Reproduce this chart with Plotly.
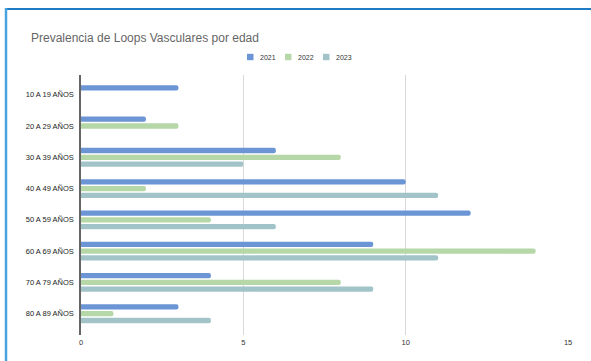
import plotly.graph_objects as go

categories = ["10 A 19 AÑOS", "20 A 29 AÑOS", "30 A 39 AÑOS", "40 A 49 AÑOS",
              "50 A 59 AÑOS", "60 A 69 AÑOS", "70 A 79 AÑOS", "80 A 89 AÑOS"]
v2021 = [3, 2, 6, 10, 12, 9, 4, 3]
v2022 = [0, 3, 8, 2, 4, 14, 8, 1]
v2023 = [0, 0, 5, 11, 6, 11, 9, 4]
series_names = ["2021", "2022", "2023"]
colors = ["#6c95d5", "#b6d7a8", "#a2c4c9"]
x_ticks = [0, 5, 10, 15]

W, H = 591, 361
L, R, T, B = 81, 22, 75, 26

fig = go.Figure()
for name, vals, col in zip(series_names, [v2021, v2022, v2023], colors):
    fig.add_trace(go.Bar(
        y=categories, x=vals, name=name, orientation="h",
        marker=dict(color=col, line=dict(width=0)), showlegend=False,
    ))

pw = W - L - R
ph = H - T - B

def px2paperx(px):
    return (px - L) / pw

def py2papery(py):
    return (H - B - py) / ph

shapes = [
    dict(type="line", xref="paper", yref="paper",
         x0=px2paperx(5), x1=px2paperx(591), y0=py2papery(9), y1=py2papery(9),
         line=dict(color="#1f7cc4", width=2)),
    dict(type="line", xref="paper", yref="paper",
         x0=px2paperx(6), x1=px2paperx(6), y0=py2papery(8), y1=py2papery(361),
         line=dict(color="#4aa3df", width=2.5)),
]
annotations = []
# custom legend (small squares + labels)
leg_x = [247, 285, 323]
leg_y = 57
for lx, name, col in zip(leg_x, series_names, colors):
    shapes.append(dict(type="rect", xref="paper", yref="paper",
                       x0=px2paperx(lx), x1=px2paperx(lx + 6.5),
                       y0=py2papery(leg_y + 3.2), y1=py2papery(leg_y - 3.2),
                       fillcolor=col, line=dict(width=0)))
    annotations.append(dict(text=name, xref="paper", yref="paper",
                            x=px2paperx(lx + 11), y=py2papery(leg_y),
                            xanchor="left", yanchor="middle", showarrow=False,
                            font=dict(size=7, color="#333")))

fig.update_layout(
    width=W, height=H,
    margin=dict(l=L, r=R, t=T, b=B, pad=0),
    paper_bgcolor="white", plot_bgcolor="white",
    barmode="group", bargap=0.35, bargroupgap=0.22, barcornerradius=2,
    font=dict(family="Liberation Sans, Arial, sans-serif", color="#222"),
    title=dict(text="Prevalencia de Loops Vasculares por edad",
               x=31 / W, xanchor="left", y=1 - 38 / H, yanchor="middle",
               font=dict(size=12, color="#666666")),
    showlegend=False,
    xaxis=dict(range=[0, pw / 32.47], tickvals=x_ticks, showgrid=True,
               gridcolor="#d9d9d9", gridwidth=1, zeroline=False,
               showline=False, ticks="", tickfont=dict(size=7.5, color="#333"),
               ticklabelstandoff=1),
    yaxis=dict(categoryorder="array", categoryarray=categories,
               range=[7.68, -0.63], showline=True, linecolor="#666",
               linewidth=1.5, ticks="", ticklabelstandoff=4,
               tickfont=dict(size=7.5, color="#222"), showgrid=False),
    shapes=shapes,
    annotations=annotations,
)

fig.write_html("out.html")
